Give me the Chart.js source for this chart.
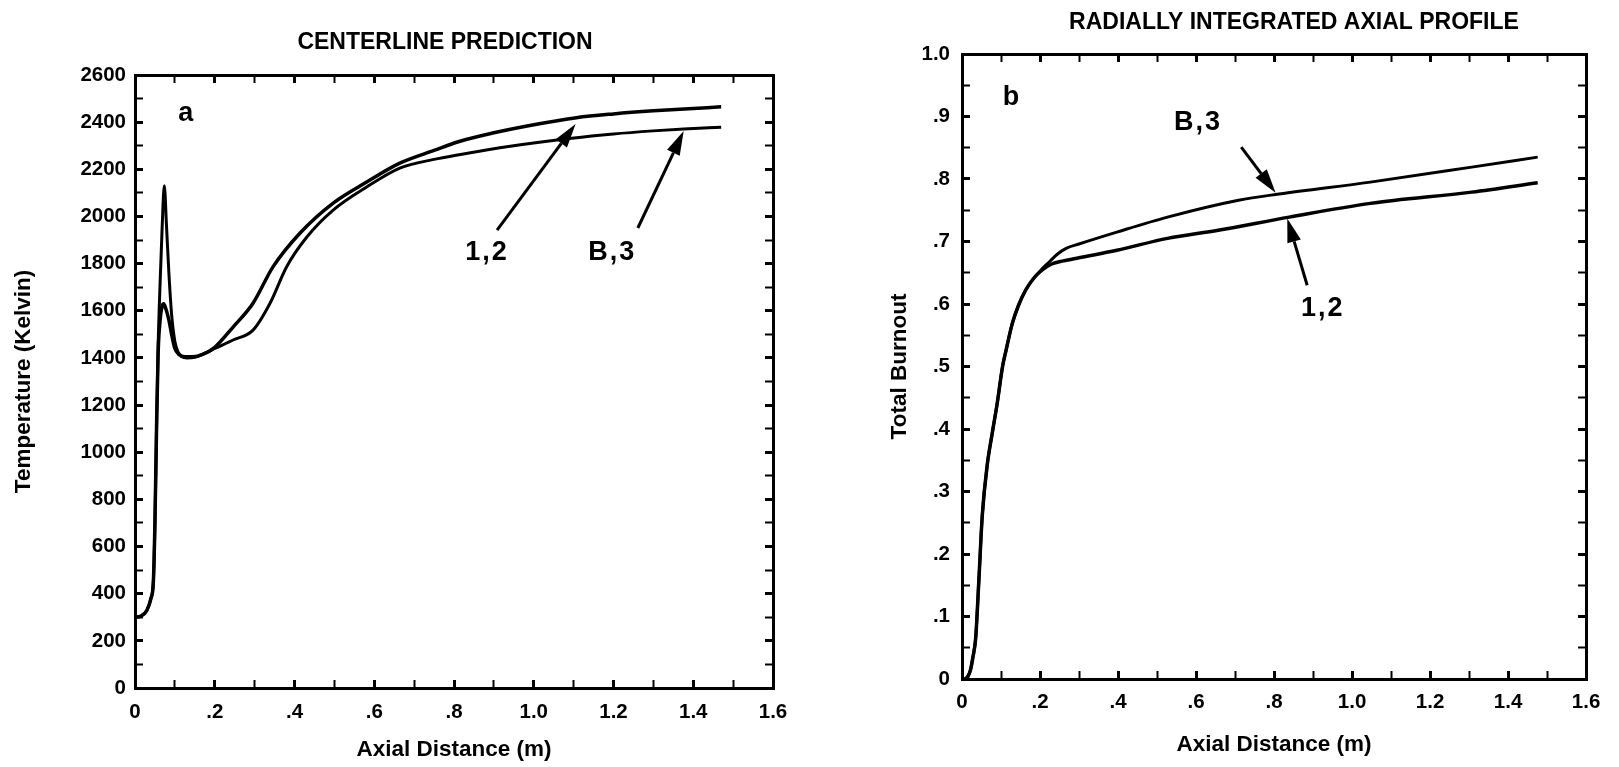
<!DOCTYPE html>
<html>
<head>
<meta charset="utf-8">
<script src="https://cdn.jsdelivr.net/npm/chart.js@4.4.1/dist/chart.umd.min.js"></script>
<style>
  html, body { margin: 0; padding: 0; background: #fff; }
  #wrap { position: relative; width: 1619px; height: 767px; overflow: hidden; }
  canvas { position: absolute; top: 0; }
  #chartTemp { left: 0; }
  #chartBurn { left: 810px; }
</style>
</head>
<body>
<div id="wrap">
  <canvas id="chartTemp" width="810" height="767"></canvas>
  <canvas id="chartBurn" width="809" height="767"></canvas>
</div>
<script>
const INK = '#000';
const FONT = "'Liberation Sans', Arial, Helvetica, sans-serif";
const SIZE = { tick: 20.5, axis: 22.5, title: 23, note: 27 };

// tick labels (one label every second tick)
const distLabels = ['0', '.2', '.4', '.6', '.8', '1.0', '1.2', '1.4', '1.6'];
const tempLabels = ['0', '200', '400', '600', '800', '1000', '1200', '1400', '1600', '1800', '2000', '2200', '2400', '2600'];
const burnLabels = ['0', '.1', '.2', '.3', '.4', '.5', '.6', '.7', '.8', '.9', '1.0'];

// a: centerline temperature (K) vs axial distance (m)
const tempX12 = [0, 0.015, 0.03, 0.04, 0.046, 0.05, 0.054, 0.058, 0.063, 0.068, 0.072, 0.078, 0.085, 0.093, 0.1, 0.11, 0.125, 0.145, 0.17, 0.2, 0.246, 0.296, 0.346, 0.414, 0.497, 0.581, 0.664, 0.75, 0.813, 0.9, 0.98, 1.107, 1.2, 1.3, 1.4, 1.47];
const temp12 = [300, 305, 330, 380, 450, 700, 1100, 1420, 1560, 1620, 1630, 1605, 1560, 1490, 1440, 1415, 1405, 1405, 1415, 1445, 1531, 1632, 1786, 1930, 2057, 2146, 2226, 2280, 2318, 2355, 2383, 2419, 2435, 2448, 2458, 2465];
const tempXB3 = [0, 0.015, 0.03, 0.04, 0.046, 0.05, 0.054, 0.058, 0.063, 0.068, 0.0735, 0.079, 0.085, 0.092, 0.1, 0.108, 0.118, 0.13, 0.15, 0.175, 0.2, 0.246, 0.296, 0.339, 0.38, 0.431, 0.497, 0.581, 0.664, 0.75, 0.813, 0.941, 1.095, 1.2, 1.3, 1.376, 1.47];
const tempB3 = [300, 305, 330, 380, 450, 700, 1100, 1450, 1720, 1950, 2130, 1960, 1760, 1580, 1470, 1425, 1405, 1400, 1403, 1420, 1440, 1476, 1518, 1633, 1786, 1913, 2027, 2125, 2205, 2242, 2262, 2298, 2332, 2350, 2363, 2371, 2378];

// b: radially integrated total burnout vs axial distance (m)
const burnX12 = [0.008, 0.015, 0.022, 0.028, 0.035, 0.043, 0.052, 0.065, 0.078, 0.09, 0.104, 0.113, 0.129, 0.145, 0.163, 0.185, 0.205, 0.23, 0.26, 0.3, 0.397, 0.527, 0.657, 0.839, 1.047, 1.307, 1.476];
const burn12 = [0, 0.004, 0.015, 0.035, 0.065, 0.155, 0.262, 0.344, 0.395, 0.44, 0.5, 0.526, 0.569, 0.598, 0.622, 0.642, 0.654, 0.664, 0.669, 0.674, 0.686, 0.705, 0.718, 0.739, 0.761, 0.779, 0.794];
const burnXB3 = [0.008, 0.015, 0.022, 0.028, 0.035, 0.043, 0.052, 0.065, 0.078, 0.09, 0.104, 0.113, 0.129, 0.145, 0.163, 0.185, 0.205, 0.225, 0.245, 0.267, 0.3, 0.397, 0.527, 0.709, 0.813, 1.047, 1.307, 1.476];
const burnB3 = [0, 0.004, 0.015, 0.035, 0.065, 0.155, 0.262, 0.344, 0.395, 0.44, 0.5, 0.526, 0.569, 0.598, 0.622, 0.642, 0.656, 0.668, 0.68, 0.689, 0.696, 0.715, 0.739, 0.766, 0.776, 0.795, 0.819, 0.835];

// labels and arrows, in data units
const tempNotes = [
  { text: 'a', x: 0.13, y: 2438 },
  { text: '1,2', x: 0.883, y: 1845 },
  { text: 'B,3', x: 1.197, y: 1849 },
];
const tempArrows = [
  { from: [0.908, 1942], to: [1.105, 2392] },
  { from: [1.261, 1951], to: [1.376, 2362] },
];
const burnNotes = [
  { text: 'b', x: 0.128, y: 0.93 },
  { text: 'B,3', x: 0.605, y: 0.891 },
  { text: '1,2', x: 0.925, y: 0.593 },
];
const burnArrows = [
  { from: [0.716, 0.851], to: [0.804, 0.778] },
  { from: [0.885, 0.63], to: [0.834, 0.737] },
];

function series(label, xs, ys, width) {
  return {
    label,
    data: xs.map((v, i) => ({ x: v, y: ys[i] })),
    borderColor: INK,
    borderWidth: width,
    pointRadius: 0,
    cubicInterpolationMode: 'monotone',
    fill: false,
  };
}

function notesPlugin(notes, arrows, titleCenter) {
  return {
    id: 'notes',
    afterLayout(chart) {
      // the panel titles sit a little off the plot centre in the original
      const tb = chart.titleBlock;
      if (!tb) return;
      const shift = titleCenter - (tb.left + tb.right) / 2;
      tb.left += shift;
      tb.right += shift;
    },
    afterDatasetsDraw(chart) {
      const { ctx, scales: { x, y } } = chart;
      ctx.save();
      ctx.fillStyle = INK;
      ctx.strokeStyle = INK;
      ctx.font = `bold ${SIZE.note}px ${FONT}`;
      ctx.textAlign = 'center';
      ctx.textBaseline = 'middle';
      if ('letterSpacing' in ctx) ctx.letterSpacing = '2px';
      notes.forEach(n => ctx.fillText(n.text, x.getPixelForValue(n.x), y.getPixelForValue(n.y)));
      arrows.forEach(a => {
        const x1 = x.getPixelForValue(a.from[0]), y1 = y.getPixelForValue(a.from[1]);
        const x2 = x.getPixelForValue(a.to[0]), y2 = y.getPixelForValue(a.to[1]);
        const ang = Math.atan2(y2 - y1, x2 - x1);
        const c = Math.cos(ang), s = Math.sin(ang);
        const bx = x2 - 24 * c, by = y2 - 24 * s;
        ctx.lineWidth = 3;
        ctx.beginPath();
        ctx.moveTo(x1, y1);
        ctx.lineTo(bx, by);
        ctx.stroke();
        ctx.beginPath();
        ctx.moveTo(x2, y2);
        ctx.lineTo(bx + 7 * s, by - 7 * c);
        ctx.lineTo(bx - 7 * s, by + 7 * c);
        ctx.closePath();
        ctx.fill();
      });
      ctx.restore();
    }
  };
}

// frame: chart area box + where labels should sit (canvas px)
function frameScales(o, f) {
  const tickFont = { family: FONT, size: SIZE.tick, weight: 'bold' };
  const titleFont = { family: FONT, size: SIZE.axis, weight: 'bold' };
  const tl = -8;
  const grid = { drawOnChartArea: false, tickLength: tl, color: INK, tickWidth: c => (c.index % 2 ? 2 : 3) };
  const border = { color: INK, width: 3 };
  const xCommon = { type: 'linear', min: o.xMin, max: o.xMax, grid, border };
  const yCommon = { type: 'linear', min: o.yMin, max: o.yMax, grid, border };
  const xHeight = f.height - f.bottom;
  return {
    x: {
      ...xCommon, position: 'bottom',
      ticks: { color: INK, font: tickFont, stepSize: o.xStep, autoSkip: false, maxRotation: 0,
               padding: f.xLabelY - f.bottom - tl - 0.6 * SIZE.tick,
               callback: (v, i) => (i % 2 ? '' : o.xLabels[i / 2]) },
      title: { display: true, text: o.xTitle, color: INK, font: titleFont,
               padding: { top: 0, bottom: f.height - f.xTitleY - 0.6 * SIZE.axis } },
      afterFit: s => { s.height = xHeight; },
    },
    xTop: {
      ...xCommon, position: 'top',
      ticks: { display: false, stepSize: o.xStep },
      afterFit: s => { s.height = 0; },
    },
    y: {
      ...yCommon, position: 'left',
      ticks: { color: INK, font: tickFont, stepSize: o.yStep, autoSkip: false,
               padding: f.left - tl - f.yLabelRight,
               callback: (v, i) => (i % 2 ? '' : o.yLabels[i / 2]) },
      title: { display: true, text: o.yTitle, color: INK, font: titleFont,
               padding: { top: f.yTitleX - 0.6 * SIZE.axis, bottom: 0 } },
      afterFit: s => { s.width = f.left; },
    },
    yRight: {
      ...yCommon, position: 'right',
      ticks: { display: false, stepSize: o.yStep },
      afterFit: s => { s.width = 0; },
    },
  };
}

function makeChart(id, cfg) {
  const f = cfg.frame;
  const lh = 1.2 * SIZE.title;
  const titleTop = f.titleY - lh / 2;
  new Chart(document.getElementById(id), {
    type: 'line',
    data: { datasets: cfg.datasets },
    options: {
      responsive: false,
      animation: false,
      devicePixelRatio: 1,
      layout: { padding: { left: 0, top: 0, bottom: 0, right: f.width - f.right } },
      plugins: {
        legend: { display: false },
        tooltip: { enabled: false },
        title: {
          display: true, text: cfg.title, color: INK, fullSize: false,
          font: { family: FONT, size: SIZE.title, weight: 'bold' },
          padding: { top: titleTop, bottom: f.top - titleTop - lh },
        },
      },
      scales: frameScales(cfg.axes, f),
    },
    plugins: [notesPlugin(cfg.notes, cfg.arrows, f.titleX)],
  });
}

makeChart('chartTemp', {
  title: 'CENTERLINE PREDICTION',
  frame: { width: 810, height: 767, left: 135, right: 773, top: 75, bottom: 688,
           titleX: 445, titleY: 43, xLabelY: 712, xTitleY: 750, yLabelRight: 126, yTitleX: 24 },
  datasets: [
    series('1,2', tempX12, temp12, 3.5),
    series('B,3', tempXB3, tempB3, 3),
  ],
  notes: tempNotes, arrows: tempArrows,
  axes: {
    xMin: 0, xMax: 1.6, xStep: 0.1, xLabels: distLabels, xTitle: 'Axial Distance (m)',
    yMin: 0, yMax: 2600, yStep: 100, yLabels: tempLabels, yTitle: 'Temperature (Kelvin)',
  },
});

makeChart('chartBurn', {
  title: 'RADIALLY INTEGRATED AXIAL PROFILE',
  frame: { width: 809, height: 767, left: 152, right: 787, top: 54, bottom: 679,
           titleX: 484, titleY: 23, xLabelY: 702, xTitleY: 745, yLabelRight: 140, yTitleX: 90 },
  datasets: [
    series('1,2', burnX12, burn12, 3.5),
    series('B,3', burnXB3, burnB3, 3),
  ],
  notes: burnNotes, arrows: burnArrows,
  axes: {
    xMin: 0, xMax: 1.6, xStep: 0.1, xLabels: distLabels, xTitle: 'Axial Distance (m)',
    yMin: 0, yMax: 1, yStep: 0.05, yLabels: burnLabels, yTitle: 'Total Burnout',
  },
});
</script>
</body>
</html>
